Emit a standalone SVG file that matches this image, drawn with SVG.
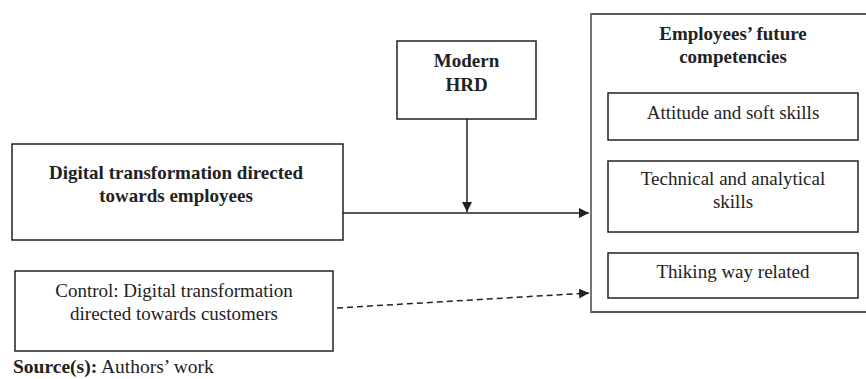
<svg xmlns="http://www.w3.org/2000/svg" width="866" height="379" viewBox="0 0 866 379" font-family="Liberation Serif">
<style>
.box{fill:#fff;stroke:#222;stroke-width:1.5}
.t{font-size:19px;fill:#222;text-anchor:middle}
.b{font-weight:bold}
.ln{stroke:#222;stroke-width:1.5;fill:none}
</style>
<defs>
<marker id="ah" viewBox="0 0 10 10" refX="10" refY="5" markerWidth="10" markerHeight="10" markerUnits="userSpaceOnUse" orient="auto">
<path d="M0,0 L10,5 L0,10 Z" fill="#222"/>
</marker>
</defs>
<rect width="866" height="379" fill="#fff"/>
<g id="outcome">
<path d="M870,14 L591,14 L591,312 L870,312" fill="#fff" stroke="#222" stroke-width="1.5"/>
<line x1="591" y1="14" x2="591" y2="312" stroke="#888" stroke-width="1.2"/>
<text class="t b" x="733" y="40">Employees’ future</text>
<text class="t b" x="733" y="63">competencies</text>
</g>
<g id="attitude">
<rect class="box" x="608" y="93" width="250" height="47"/>
<text class="t" x="733" y="119">Attitude and soft skills</text>
</g>
<g id="technical">
<rect class="box" x="608" y="161" width="250" height="71"/>
<text class="t" x="733" y="185">Technical and analytical</text>
<text class="t" x="733" y="208">skills</text>
</g>
<g id="thinking">
<rect class="box" x="608" y="253" width="250" height="45"/>
<text class="t" x="733" y="278">Thiking way related</text>
</g>
<g id="hrd">
<rect class="box" x="397" y="41" width="139" height="78"/>
<text class="t b" x="466.5" y="67">Modern</text>
<text class="t b" x="466.5" y="91">HRD</text>
</g>
<g id="digital">
<rect class="box" x="12" y="144" width="331" height="96"/>
<text class="t b" x="176" y="179">Digital transformation directed</text>
<text class="t b" x="176" y="202">towards employees</text>
</g>
<g id="control">
<rect class="box" x="15" y="271" width="318" height="80"/>
<text class="t" x="174" y="297">Control: Digital transformation</text>
<text class="t" x="174" y="320">directed towards customers</text>
</g>
<g id="connectors">
<line class="ln" x1="343" y1="213" x2="589" y2="213" marker-end="url(#ah)"/>
<line class="ln" x1="467" y1="119" x2="467" y2="212" marker-end="url(#ah)"/>
<line class="ln" x1="337" y1="308" x2="589" y2="293" stroke-dasharray="6,4" marker-end="url(#ah)"/>
</g>
<text x="13" y="373" font-size="19.5" fill="#222"><tspan font-weight="bold">Source(s):</tspan> Authors’ work</text>
</svg>
